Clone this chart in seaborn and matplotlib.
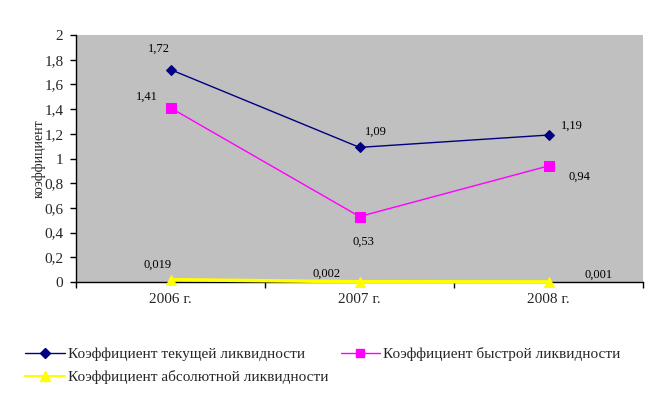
import matplotlib
matplotlib.use("Agg")
import matplotlib.pyplot as plt
from matplotlib.lines import Line2D
import seaborn as sns
import numpy as np
import pandas as pd

years = ["2006 г.", "2007 г.", "2008 г."]
current_ratio = [1.72, 1.09, 1.19]
quick_ratio = [1.41, 0.53, 0.94]
absolute_ratio = [0.019, 0.002, 0.001]
current_labels = ["1,72", "1,09", "1,19"]
quick_labels = ["1,41", "0,53", "0,94"]
absolute_labels = ["0,019", "0,002", "0,001"]
series_names = ["Коэффициент текущей ликвидности",
                "Коэффициент быстрой ликвидности",
                "Коэффициент абсолютной ликвидности"]
yticks = [0, 0.2, 0.4, 0.6, 0.8, 1, 1.2, 1.4, 1.6, 1.8, 2]

sns.set_style("white")
plt.rcParams["font.family"] = ["Liberation Serif", "DejaVu Serif"]

fig = plt.figure(figsize=(6.68, 3.95), dpi=100)
ax = fig.add_axes([76/668, 1-282/395, (643-76)/668, (282-35)/395])
ax.set_facecolor("#C0C0C0")

pos = np.arange(len(years))
df = pd.DataFrame({"x": pos, "cur": current_ratio, "quick": quick_ratio, "abs": absolute_ratio})

sns.lineplot(data=df, x="x", y="cur", ax=ax, color="#000080", lw=1, marker="D",
             markersize=5, markeredgecolor="#000080", zorder=4)
sns.lineplot(data=df, x="x", y="quick", ax=ax, color="#FF00FF", lw=1, marker="s",
             markersize=6.5, markeredgecolor="#FF00FF", zorder=4)
sns.lineplot(data=df, x="x", y="abs", ax=ax, color="#FFFF00", lw=2.5, marker="^",
             markersize=7, markeredgecolor="#FFFF00", zorder=5, clip_on=False)

lab_kw = dict(fontsize=9, textcoords="offset points", ha="center", va="center", color="black")
cur_off = [(-8, 15), (12, 11), (17, 7)]
quick_off = [(-17, 8), (3, -18), (22, -8)]
abs_off = [(-9, 11), (-24, 6), (36, 5)]
for i in range(len(years)):
    ax.annotate(current_labels[i], (pos[i], current_ratio[i]), xytext=cur_off[i], **lab_kw)
    ax.annotate(quick_labels[i], (pos[i], quick_ratio[i]), xytext=quick_off[i], **lab_kw)
    ax.annotate(absolute_labels[i], (pos[i], absolute_ratio[i]), xytext=abs_off[i], **lab_kw)

ax.set_xlim(-0.5, 2.5)
ax.set_ylim(0, 2)
ax.set_yticks(yticks)
ax.set_yticklabels([f"{t:g}".replace(".", ",") for t in yticks], fontsize=11)
ax.set_xticks([-0.5, 0.5, 1.5, 2.5])
ax.set_xticklabels([])
ax.set_xticks(pos, minor=True)
ax.set_xticklabels(years, minor=True, fontsize=11)
ax.tick_params(axis="x", which="minor", length=0, pad=8)
ax.tick_params(axis="both", which="major", length=4, width=1, color="black", direction="out")
ax.tick_params(axis="x", which="major", bottom=True)
ax.tick_params(axis="y", left=True, pad=5)
ax.set_xlabel("")
ax.set_ylabel("коэффициент", fontsize=10, labelpad=-1)
for s in ["top", "right"]:
    ax.spines[s].set_visible(False)
for s in ["left", "bottom"]:
    ax.spines[s].set_color("black")
    ax.spines[s].set_linewidth(1)

handles = [
    Line2D([], [], color="#000080", marker="D", markersize=5, lw=1),
    Line2D([], [], color="#FF00FF", marker="s", markersize=6, lw=1),
    Line2D([], [], color="#FFFF00", marker="^", markersize=7, lw=1.5),
]
fig.legend([handles[0], handles[2], handles[1]],
           [series_names[0], series_names[2], series_names[1]],
           ncol=2, frameon=False, loc="upper left", bbox_to_anchor=(19/668, 1-341/395),
           fontsize=11, handlelength=2.6, handletextpad=0.2, columnspacing=0.8,
           labelspacing=0.6, borderaxespad=0)

fig.savefig("out.png", dpi=100)
